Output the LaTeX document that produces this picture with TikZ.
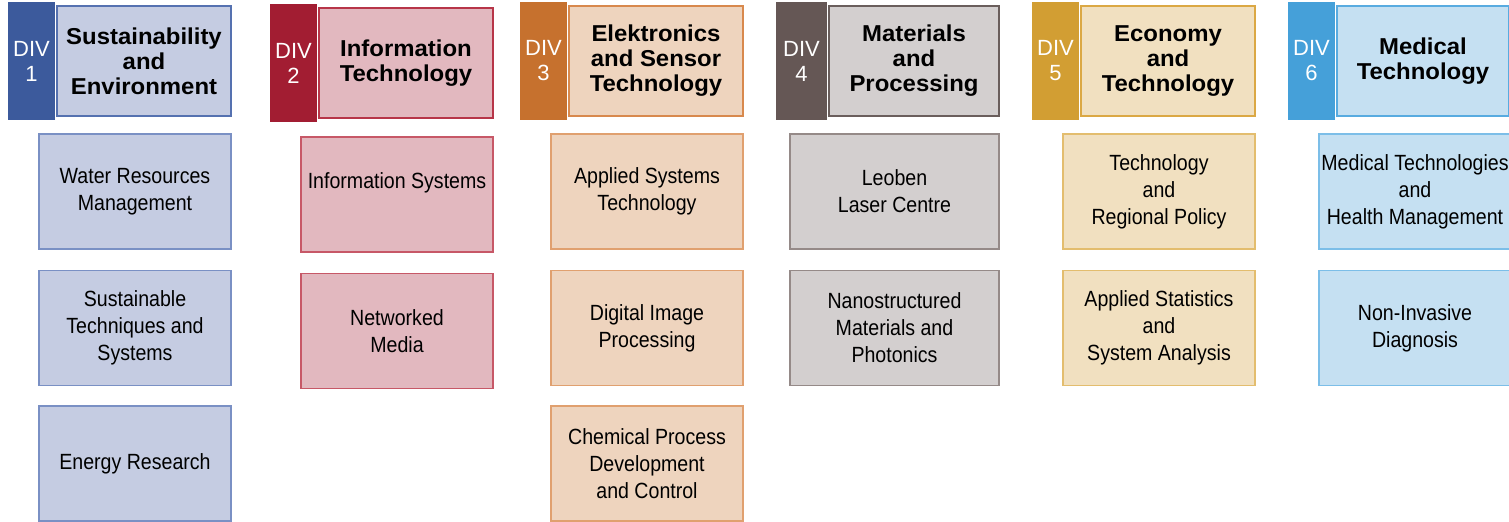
\documentclass[tikz,border=0pt]{standalone}
\usepackage{fontspec}
\setmainfont{Liberation Sans}
\newfontfamily\subfont[FakeStretch=0.89]{Liberation Sans}
\newfontfamily\headfont[FakeStretch=1.04]{Liberation Sans}

\definecolor{tabA}{HTML}{3C5A9C}\definecolor{fillA}{HTML}{C5CCE2}\definecolor{lineA}{HTML}{5571B0}\definecolor{thinA}{HTML}{7A90C4}
\definecolor{tabB}{HTML}{A21D32}\definecolor{fillB}{HTML}{E2B8BF}\definecolor{lineB}{HTML}{B73548}\definecolor{thinB}{HTML}{C75867}
\definecolor{tabC}{HTML}{C6712E}\definecolor{fillC}{HTML}{EED4BE}\definecolor{lineC}{HTML}{D8894D}\definecolor{thinC}{HTML}{E0A06F}
\definecolor{tabD}{HTML}{655755}\definecolor{fillD}{HTML}{D3CFCF}\definecolor{lineD}{HTML}{6A5E5C}\definecolor{thinD}{HTML}{958A88}
\definecolor{tabE}{HTML}{D29E33}\definecolor{fillE}{HTML}{F1E0C0}\definecolor{lineE}{HTML}{DBA844}\definecolor{thinE}{HTML}{E3BD6E}
\definecolor{tabF}{HTML}{45A0D9}\definecolor{fillF}{HTML}{C5E0F2}\definecolor{lineF}{HTML}{58ABE0}\definecolor{thinF}{HTML}{7CBEE8}

\tikzset{
 tabbox/.style={fill=#1,minimum width=23.5pt,minimum height=59pt,inner sep=0pt,text=white,align=center,font=\fontsize{11}{12.5}\selectfont},
 headbox/.style 2 args={fill=#1,draw=#2,line width=1.2pt,minimum width=87pt,minimum height=55pt,inner sep=0pt,align=center,font=\headfont\bfseries\fontsize{11.5}{12.5}\selectfont},
 subbox/.style 2 args={fill=#1,draw=#2,line width=0.7pt,minimum width=96pt,minimum height=57.5pt,inner sep=0pt,align=center,font=\subfont\fontsize{11}{13.5}\selectfont}
}

\begin{document}
\begin{tikzpicture}[x=0.5pt,y=-0.5pt]
 \useasboundingbox (0,0) rectangle (1509,522);

 % DIV 1
 \node[tabbox=tabA] (div1) at (31.5,61) {DIV\\1};
 \node[headbox={fillA}{lineA}] (head1) at (144,61) {Sustainability\\and\\Environment};
 \node[subbox={fillA}{thinA}] (sub11) at (135,191.5) {Water Resources\\Management};
 \node[subbox={fillA}{thinA}] (sub12) at (135,328) {Sustainable\\Techniques and\\Systems};
 \node[subbox={fillA}{thinA}] (sub13) at (135,463.5) {Energy Research};

 % DIV 2
 \node[tabbox=tabB] (div2) at (293.5,63) {DIV\\2};
 \node[headbox={fillB}{lineB}] (head2) at (406,63) {Information\\Technology};
 \node[subbox={fillB}{thinB}] (sub21) at (397,194.5) {Information Systems\\\mbox{}};
 \node[subbox={fillB}{thinB}] (sub22) at (397,331) {Networked\\Media};

 % DIV 3
 \node[tabbox=tabC] (div3) at (543.5,61) {DIV\\3};
 \node[headbox={fillC}{lineC}] (head3) at (656,61) {Elektronics\\and Sensor\\Technology};
 \node[subbox={fillC}{thinC}] (sub31) at (647,191.5) {Applied Systems\\Technology};
 \node[subbox={fillC}{thinC}] (sub32) at (647,328) {Digital Image\\Processing};
 \node[subbox={fillC}{thinC}] (sub33) at (647,463.5) {Chemical Process\\Development\\and Control};

 % DIV 4
 \node[tabbox=tabD,minimum width=25.5pt] (div4) at (801.5,61) {DIV\\4};
 \node[headbox={fillD}{lineD},minimum width=85pt] (head4) at (914,61) {Materials\\and\\Processing};
 \node[subbox={fillD}{thinD},minimum width=104.5pt] (sub41) at (894.5,191.5) {Leoben\\Laser Centre};
 \node[subbox={fillD}{thinD},minimum width=104.5pt] (sub42) at (894.5,328) {Nanostructured\\Materials and\\Photonics};

 % DIV 5
 \node[tabbox=tabE] (div5) at (1055.5,61) {DIV\\5};
 \node[headbox={fillE}{lineE}] (head5) at (1168,61) {Economy\\and\\Technology};
 \node[subbox={fillE}{thinE}] (sub51) at (1159,191.5) {Technology\\and\\Regional Policy};
 \node[subbox={fillE}{thinE}] (sub52) at (1159,328) {Applied Statistics\\and\\System Analysis};

 % DIV 6
 \node[tabbox=tabF] (div6) at (1311.5,61) {DIV\\6};
 \node[headbox={fillF}{lineF},minimum width=86pt] (head6) at (1423,61) {Medical\\Technology};
 \node[subbox={fillF}{thinF}] (sub61) at (1415,191.5) {Medical Technologies\\and\\Health Management};
 \node[subbox={fillF}{thinF}] (sub62) at (1415,328) {Non-Invasive\\Diagnosis};
\end{tikzpicture}
\end{document}
